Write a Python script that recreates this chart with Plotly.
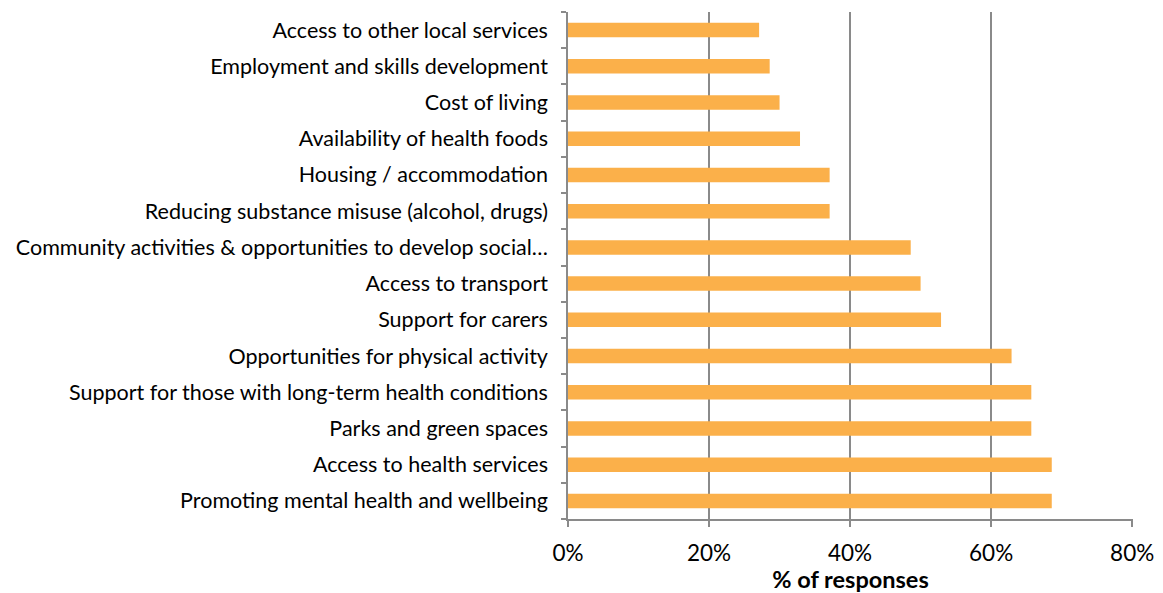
import plotly.graph_objects as go

# Survey priorities, listed bottom-to-top as drawn on the category axis
categories = [
    "Promoting mental health and wellbeing",
    "Access to health services",
    "Parks and green spaces",
    "Support for those with long-term health conditions",
    "Opportunities for physical activity",
    "Support for carers",
    "Access to transport",
    "Community activities & opportunities to develop social…",
    "Reducing substance misuse (alcohol, drugs)",
    "Housing / accommodation",
    "Availability of health foods",
    "Cost of living",
    "Employment and skills development",
    "Access to other local services",
]
share_pct = [68.6, 68.6, 65.7, 65.7, 62.9, 52.9, 50.0, 48.6, 37.1, 37.1, 32.9, 30.0, 28.6, 27.1]

x_ticks = [0, 20, 40, 60, 80]
x_tick_labels = ["0%", "20%", "40%", "60%", "80%"]

FONT = "Lato"
GREY = "#8a8a8a"

fig = go.Figure(
    go.Bar(
        x=share_pct,
        y=categories,
        orientation="h",
        marker=dict(color="#FBB04A", line=dict(width=0)),
        hovertemplate="%{y}: %{x:.1f}%<extra></extra>",
    )
)

fig.update_layout(
    width=1163,
    height=593,
    margin=dict(l=568, r=30, t=12, b=74),
    paper_bgcolor="white",
    plot_bgcolor="white",
    bargap=0.6,
    showlegend=False,
    font=dict(family=FONT, size=21, color="#000000"),
)

fig.update_xaxes(
    range=[0, 80.12],
    tickvals=x_ticks,
    ticktext=x_tick_labels,
    automargin=False,
    showgrid=True,
    gridcolor=GREY,
    gridwidth=1.5,
    showline=True,
    linecolor=GREY,
    linewidth=1.5,
    ticks="outside",
    ticklen=6,
    tickcolor=GREY,
    tickwidth=1.5,
    ticklabelstandoff=7,
    tickfont=dict(family=FONT, size=22.5),
    zeroline=False,
    title=dict(text="<b>% of responses</b>", font=dict(family=FONT, size=23.5), standoff=8),
)

fig.update_yaxes(
    categoryorder="array",
    categoryarray=categories,
    automargin=False,
    showline=True,
    linecolor=GREY,
    linewidth=1.5,
    ticks="outside",
    tickson="boundaries",
    ticklen=5,
    tickcolor=GREY,
    tickwidth=1.5,
    ticklabelstandoff=14,
    tickfont=dict(family=FONT, size=21.5),
    showgrid=False,
)

fig.write_html("out.html")
